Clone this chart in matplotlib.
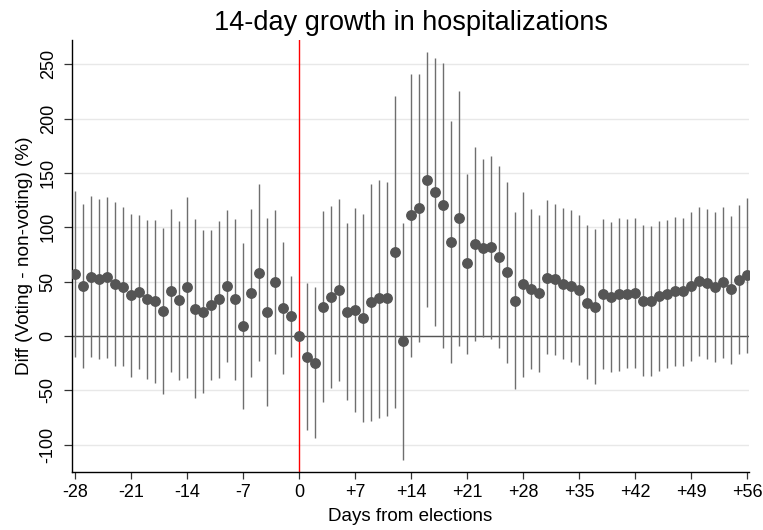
import numpy as np
import matplotlib
matplotlib.use('Agg')
import matplotlib.pyplot as plt

plt.rcParams['font.family'] = ['Liberation Sans', 'DejaVu Sans']

days = list(range(-28, 57))

est = [57.1, 46.0, 54.6, 52.8, 54.0, 47.5, 45.4, 37.4, 40.5, 33.7, 31.9, 22.7, 41.7, 32.8,
       44.8, 24.8, 22.1, 28.5, 34.4, 46.3, 34.0, 9.5, 39.6, 58.3, 21.8, 49.4, 25.5, 18.4,
       0.0,
       -19.0, -24.5, 27.0, 36.2, 42.3, 22.4, 23.9, 16.9, 31.0, 34.7, 34.7, 77.3, -4.6, 111.0,
       118.1, 143.6, 132.5, 120.6, 86.8, 108.3, 66.9, 84.7, 81.3, 81.6, 72.4, 58.6, 32.5, 47.5,
       43.6, 39.3, 53.7, 52.1, 47.9, 46.0, 42.0, 30.7, 27.0, 38.7, 35.9, 38.3, 39.0, 39.6,
       32.5, 32.2, 37.1, 39.0, 41.7, 41.1, 46.0, 50.9, 48.5, 45.4, 50.0, 42.9, 51.5, 56.1]

ci_hi = [133.4, 121.2, 128.5, 126.1, 127.9, 123.0, 118.4, 112.3, 111.7, 107.1, 106.4, 99.1, 116.9, 106.1,
         128.2, 107.4, 97.2, 97.9, 105.8, 116.3, 108.0, 85.9, 117.2, 139.9, 108.3, 115.6, 86.8, 55.2,
         0.0,
         48.5, 45.4, 114.7, 119.3, 125.8, 103.7, 117.8, 112.3, 140.2, 143.9, 141.7, 220.6, 104.3, 241.1,
         241.4, 261.0, 256.1, 251.5, 198.2, 225.5, 149.1, 173.6, 162.9, 165.3, 156.4, 141.7, 113.8, 132.2,
         117.2, 111.7, 124.8, 121.8, 117.8, 115.6, 111.0, 101.8, 98.5, 107.7, 104.6, 108.9, 107.7, 108.3,
         101.8, 100.9, 105.8, 107.1, 109.8, 108.6, 113.8, 119.0, 116.6, 114.1, 119.0, 110.7, 120.2, 126.7]

ci_lo = [-19.0, -29.1, -19.0, -21.2, -19.9, -27.6, -27.6, -37.4, -30.7, -39.9, -42.9, -53.7, -33.4, -40.8,
         -39.0, -57.4, -52.8, -40.5, -38.3, -23.6, -40.2, -66.9, -37.7, -23.3, -64.4, -16.3, -35.3, -19.0,
         0.0,
         -86.5, -94.2, -60.4, -47.5, -41.4, -58.9, -69.6, -78.8, -77.9, -75.2, -73.6, -66.6, -114.1, -19.0,
         -5.8, 26.4, 9.2, -10.7, -24.5, -8.9, -16.6, -4.6, -0.5, -3.1, -11.3, -25.2, -48.8, -37.4,
         -30.4, -32.8, -16.6, -17.5, -21.5, -23.6, -26.7, -39.9, -44.2, -30.4, -33.1, -31.9, -29.1, -29.1,
         -36.8, -36.5, -31.9, -29.8, -27.6, -27.3, -22.7, -18.4, -21.2, -24.2, -19.9, -26.1, -16.9, -15.3]

xticks = list(range(-28, 57, 7))
xlabels = [('+%d' % t) if t > 0 else str(t) for t in xticks]
yticks = list(range(-100, 251, 50))

fig = plt.figure(figsize=(7.63, 5.30), dpi=100)
ax = fig.add_axes([0.0944, 0.1094, 0.8873, 0.8151])

for y in yticks:
    ax.axhline(y, color='#e8e8e8', lw=1.0, zorder=0)
ax.axhline(0, color='#555555', lw=1.0, zorder=1)
ax.axvline(0, color='#ff0000', lw=1.0, zorder=2)

ax.vlines(days, ci_lo, ci_hi, color='#6e6e6e', lw=1.0, zorder=3)
ax.plot(days, est, 'o', color='#555555', ms=6.8, mec='#555555', zorder=4)

ax.set_xlim(-28.4, 56.25)
ax.set_ylim(-125.2, 272.4)
ax.set_xticks(xticks)
ax.set_xticklabels(xlabels, fontsize=13)
ax.set_yticks(yticks)
ax.set_yticklabels([str(t) for t in yticks], fontsize=13, rotation=90, va='center')
ax.tick_params(axis='y', length=6, width=0.9, pad=5, color='#333333')
ax.tick_params(axis='x', length=5, width=0.9, pad=3.5, color='#333333')

for s in ['top', 'right']:
    ax.spines[s].set_visible(False)
for s in ['left', 'bottom']:
    ax.spines[s].set_linewidth(1.0)
    ax.spines[s].set_color('black')

ax.set_xlabel('Days from elections', fontsize=13.5, labelpad=5)
ax.set_ylabel('Diff (Voting - non-voting) (%)', fontsize=13.7, labelpad=5)
ax.set_title('14-day growth in hospitalizations', fontsize=19.5, pad=7)

fig.savefig('out.png', dpi=100)
